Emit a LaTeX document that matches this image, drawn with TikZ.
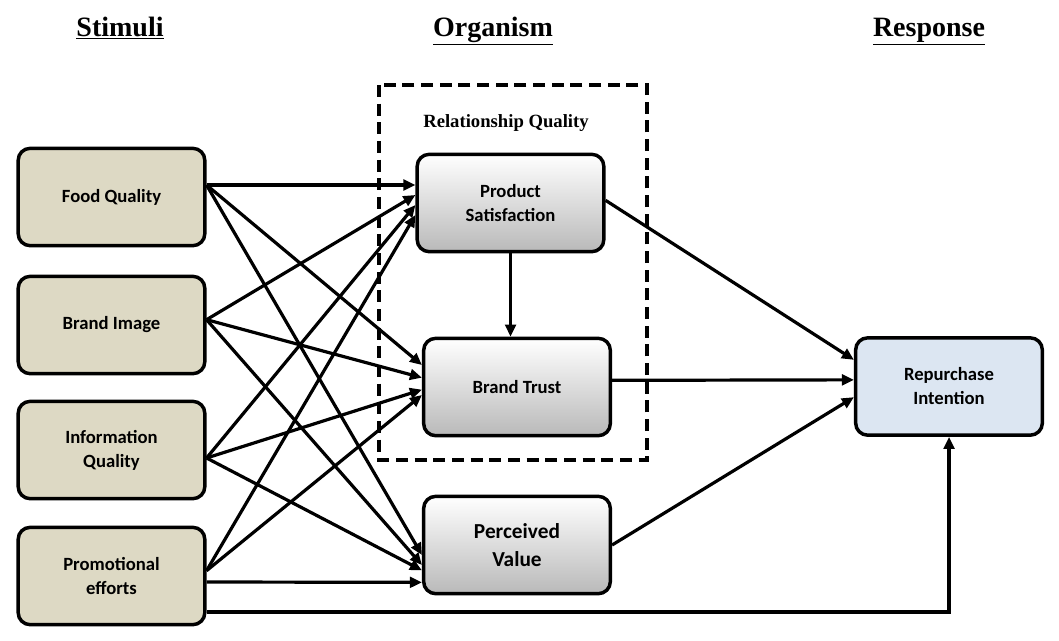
\documentclass[tikz,border=0pt]{standalone}
\usepackage{fontspec}
\setmainfont{Liberation Serif}
\newfontfamily\bx{Carlito}
\usetikzlibrary{arrows.meta}
\begin{document}
\begin{tikzpicture}[x=0.75pt,y=-0.75pt,
 box/.style={draw=black,line width=2.6pt,rounded corners=9pt,minimum width=140pt,minimum height=73pt,align=center,font=\bx\fontsize{14}{18}\selectfont\bfseries},
 stim/.style={box,fill={rgb,255:red,221;green,217;blue,196}},
 org/.style={box,top color=white,bottom color={rgb,255:red,185;green,185;blue,185}},
 arr/.style={-{Triangle[length=9pt,width=8pt]},line width=2.4pt},
 head/.style={font=\fontsize{21}{25}\selectfont\bfseries,anchor=base}]
\useasboundingbox (0,0) rectangle (1059,640);
\node[head] (h1) at (120,36) {\underline{Stimuli}};
\node[head] (h2) at (493,36) {\underline{Organism}};
\node[head] (h3) at (929,36) {\underline{Response}};
\draw[line width=2.6pt,dash pattern=on 9pt off 5pt] (379,85) rectangle (647,460);
\node[font=\fontsize{14}{17}\selectfont\bfseries] (rq) at (506,123) {Relationship Quality};
\node[stim] (fq) at (111.5,197) {Food Quality};
\node[stim] (bi) at (111.5,325) {Brand Image};
\node[stim] (iq) at (111.5,450) {Information\\Quality};
\node[stim] (pe) at (111.5,576) {Promotional\\efforts};
\node[org] (ps) at (510.5,203) {Product\\Satisfaction};
\node[org] (bt) at (517,387) {Brand Trust};
\node[org,font=\bx\fontsize{16}{21}\selectfont\bfseries] (pv) at (517,545) {Perceived\\Value};
\node[box,fill={rgb,255:red,220;green,230;blue,242}] (ri) at (949,386.5) {Repurchase\\Intention};
% food
\draw[arr] ([yshift=9pt]fq.east) -- ([yshift=13.5pt]ps.west);
\draw[arr] ([yshift=9pt]fq.east) -- ([yshift=16.5pt]bt.west);
\draw[arr] ([yshift=9pt]fq.east) -- ([yshift=-7.5pt]pv.west);
% brand
\draw[arr] ([yshift=4pt]bi.east) -- ([yshift=6pt]ps.west);
\draw[arr] ([yshift=4pt]bi.east) -- ([yshift=7pt]bt.west);
\draw[arr] ([yshift=4pt]bi.east) -- ([yshift=-15pt]pv.west);
% info
\draw[arr] ([yshift=-6pt]iq.east) -- ([yshift=-1.5pt]ps.west);
\draw[arr] ([yshift=-6pt]iq.east) -- ([yshift=-2pt]bt.west);
\draw[arr] ([yshift=-6pt]iq.east) -- ([yshift=-19pt]pv.west);
% promo
\draw[arr] ([yshift=4pt]pe.east) -- ([yshift=-9pt]ps.west);
\draw[arr] ([yshift=4pt]pe.east) -- ([yshift=-6pt]bt.west);
\draw[arr] ([yshift=-4.5pt]pe.east) -- ([yshift=-28pt]pv.west);
\draw[arr] ([yshift=-27pt]pe.east) -| (ri.south);
% organism
\draw[arr] (ps.south) -- (ps.south |- bt.north);
\draw[arr] ([yshift=2pt]ps.east) -- ([yshift=20pt]ri.west);
\draw[arr] ([yshift=5pt]bt.east) -- ([yshift=5pt]ri.west);
\draw[arr] (pv.east) -- ([yshift=-8pt]ri.west);
\end{tikzpicture}
\end{document}
